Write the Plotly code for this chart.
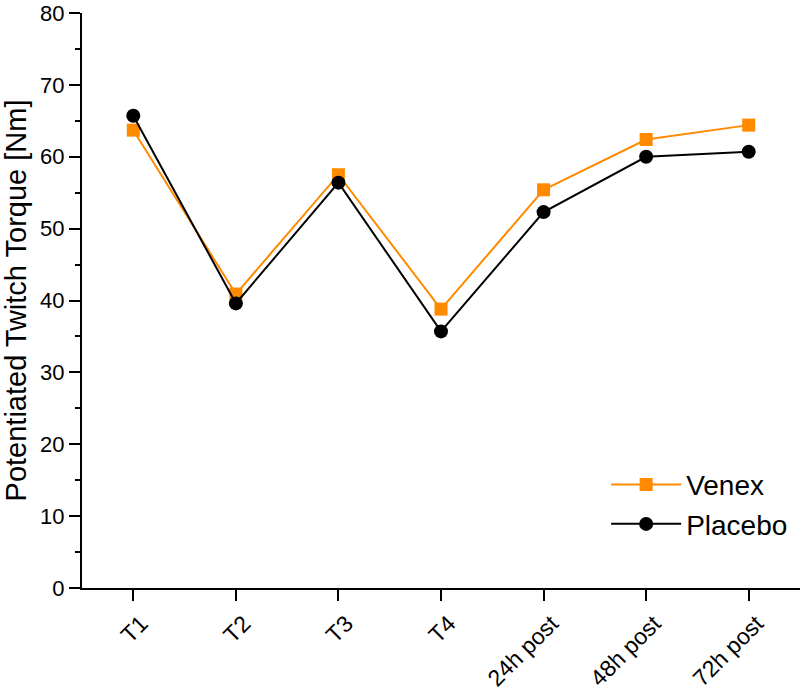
import plotly.graph_objects as go

categories = ["T1", "T2", "T3", "T4", "24h post", "48h post", "72h post"]
venex = [63.7, 40.9, 57.5, 38.8, 55.4, 62.4, 64.4]
placebo = [65.7, 39.6, 56.4, 35.7, 52.3, 60.0, 60.7]
y_ticks = [0, 10, 20, 30, 40, 50, 60, 70, 80]

FONT = "Arial, Liberation Sans, sans-serif"

fig = go.Figure()
fig.add_trace(go.Scatter(
    x=categories, y=venex, name="Venex", mode="lines+markers",
    line=dict(color="#FF8A00", width=2),
    marker=dict(symbol="square", size=13, color="#FF8A00"),
))
fig.add_trace(go.Scatter(
    x=categories, y=placebo, name="Placebo", mode="lines+markers",
    line=dict(color="#000000", width=2),
    marker=dict(symbol="circle", size=14, color="#000000"),
))

fig.update_layout(
    width=800, height=692,
    margin=dict(l=82, r=0, t=13, b=104),
    plot_bgcolor="white", paper_bgcolor="white",
    font=dict(family=FONT, color="black"),
    showlegend=True,
    legend=dict(
        x=0.73, y=0.223, xanchor="left", yanchor="top",
        font=dict(size=28, family=FONT, color="black"),
        bgcolor="rgba(0,0,0,0)", itemwidth=70,
        tracegroupgap=0,
    ),
    xaxis=dict(
        type="category", categoryorder="array", categoryarray=categories,
        range=[-0.5, 6.5],
        showline=True, linecolor="black", linewidth=2,
        ticks="outside", ticklen=11, tickwidth=2, tickcolor="black",
        tickangle=-45, tickfont=dict(size=23, family=FONT),
        ticklabelshift=8,
        showgrid=False, zeroline=False, automargin=False,
    ),
    yaxis=dict(
        range=[0, 80], tickvals=y_ticks,
        showline=True, linecolor="black", linewidth=2,
        ticks="outside", ticklen=11, tickwidth=2, tickcolor="black",
        minor=dict(dtick=5, ticks="outside", ticklen=5, tickwidth=2, tickcolor="black", showgrid=False),
        tickfont=dict(size=22, family=FONT),
        showgrid=False, zeroline=False,
        title=dict(text="Potentiated Twitch Torque [Nm]", font=dict(size=29, family=FONT), standoff=18),
        automargin=False,
    ),
)

fig.write_html("out.html", config={"displayModeBar": False},
               post_script="document.body.style.margin='0';")
